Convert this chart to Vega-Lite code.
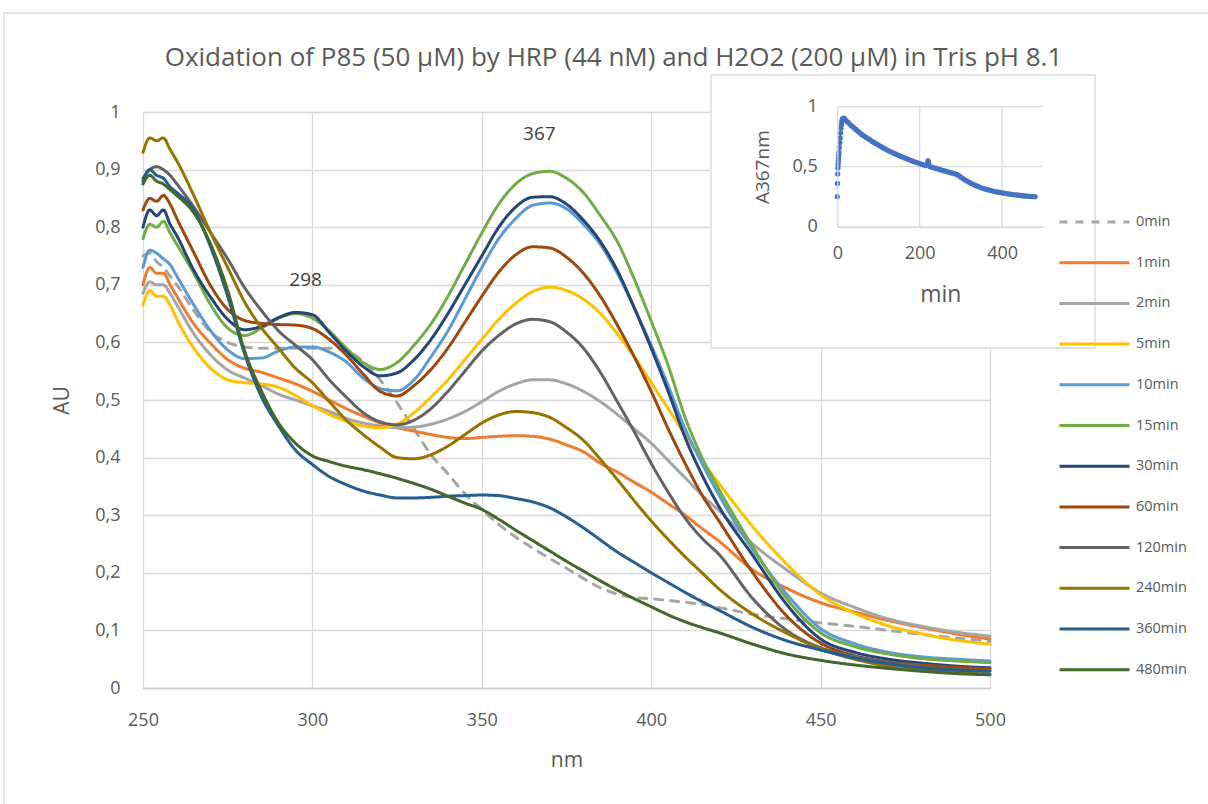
{
  "$schema": "https://vega.github.io/schema/vega-lite/v6.json",
  "width": 847,
  "height": 576,
  "autosize": {"type": "none"},
  "padding": {"left": 143, "top": 112, "right": 218, "bottom": 116},
  "background": "white",
  "title": {"text": "Oxidation of P85 (50 µM) by HRP (44 nM) and H2O2 (200 µM) in Tris pH 8.1", "font": "Open Sans", "fontSize": 26, "fontWeight": "normal", "color": "#595959", "anchor": "middle", "dx": 47, "dy": 26, "offset": -33},
  "config": {"view": {"stroke": null}, "font": "Open Sans"},
  "datasets": {
    "peaks": [{"nm": 298, "au": 0.708, "label": "298"}, {"nm": 367, "au": 0.961, "label": "367"}],
    "spectra": [
{"series":"0min","nm":250,"au":0.75},{"series":"0min","nm":252,"au":0.755},{"series":"0min","nm":254,"au":0.74},{"series":"0min","nm":256,"au":0.73},{"series":"0min","nm":258,"au":0.715},{"series":"0min","nm":260,"au":0.7},{"series":"0min","nm":265,"au":0.655},{"series":"0min","nm":270,"au":0.618},{"series":"0min","nm":275,"au":0.6},{"series":"0min","nm":280,"au":0.592},{"series":"0min","nm":285,"au":0.59},{"series":"0min","nm":290,"au":0.59},{"series":"0min","nm":295,"au":0.59},{"series":"0min","nm":300,"au":0.59},{"series":"0min","nm":305,"au":0.59},{"series":"0min","nm":310,"au":0.585},{"series":"0min","nm":315,"au":0.567},{"series":"0min","nm":320,"au":0.535},{"series":"0min","nm":325,"au":0.495},{"series":"0min","nm":330,"au":0.45},{"series":"0min","nm":335,"au":0.405},{"series":"0min","nm":340,"au":0.372},{"series":"0min","nm":345,"au":0.337},{"series":"0min","nm":350,"au":0.31},{"series":"0min","nm":355,"au":0.284},{"series":"0min","nm":360,"au":0.262},{"series":"0min","nm":365,"au":0.243},{"series":"0min","nm":370,"au":0.225},{"series":"0min","nm":375,"au":0.208},{"series":"0min","nm":380,"au":0.19},{"series":"0min","nm":385,"au":0.174},{"series":"0min","nm":390,"au":0.163},{"series":"0min","nm":395,"au":0.157},{"series":"0min","nm":400,"au":0.155},{"series":"0min","nm":405,"au":0.152},{"series":"0min","nm":410,"au":0.149},{"series":"0min","nm":415,"au":0.145},{"series":"0min","nm":420,"au":0.14},{"series":"0min","nm":430,"au":0.128},{"series":"0min","nm":440,"au":0.12},{"series":"0min","nm":450,"au":0.113},{"series":"0min","nm":460,"au":0.107},{"series":"0min","nm":470,"au":0.1},{"series":"0min","nm":480,"au":0.093},{"series":"0min","nm":490,"au":0.087},{"series":"0min","nm":500,"au":0.081},
{"series":"1min","nm":250,"au":0.7},{"series":"1min","nm":252,"au":0.73},{"series":"1min","nm":254,"au":0.72},{"series":"1min","nm":256,"au":0.72},{"series":"1min","nm":258,"au":0.7},{"series":"1min","nm":260,"au":0.68},{"series":"1min","nm":265,"au":0.632},{"series":"1min","nm":270,"au":0.598},{"series":"1min","nm":275,"au":0.57},{"series":"1min","nm":280,"au":0.555},{"series":"1min","nm":285,"au":0.548},{"series":"1min","nm":290,"au":0.538},{"series":"1min","nm":295,"au":0.528},{"series":"1min","nm":300,"au":0.515},{"series":"1min","nm":305,"au":0.5},{"series":"1min","nm":310,"au":0.485},{"series":"1min","nm":315,"au":0.472},{"series":"1min","nm":320,"au":0.46},{"series":"1min","nm":325,"au":0.452},{"series":"1min","nm":330,"au":0.446},{"series":"1min","nm":335,"au":0.44},{"series":"1min","nm":340,"au":0.435},{"series":"1min","nm":345,"au":0.433},{"series":"1min","nm":350,"au":0.435},{"series":"1min","nm":355,"au":0.437},{"series":"1min","nm":360,"au":0.438},{"series":"1min","nm":365,"au":0.437},{"series":"1min","nm":370,"au":0.432},{"series":"1min","nm":375,"au":0.422},{"series":"1min","nm":380,"au":0.41},{"series":"1min","nm":385,"au":0.39},{"series":"1min","nm":390,"au":0.375},{"series":"1min","nm":395,"au":0.357},{"series":"1min","nm":400,"au":0.34},{"series":"1min","nm":405,"au":0.32},{"series":"1min","nm":410,"au":0.3},{"series":"1min","nm":415,"au":0.277},{"series":"1min","nm":420,"au":0.255},{"series":"1min","nm":430,"au":0.205},{"series":"1min","nm":440,"au":0.173},{"series":"1min","nm":450,"au":0.148},{"series":"1min","nm":460,"au":0.132},{"series":"1min","nm":470,"au":0.117},{"series":"1min","nm":480,"au":0.105},{"series":"1min","nm":490,"au":0.094},{"series":"1min","nm":500,"au":0.085},
{"series":"2min","nm":250,"au":0.685},{"series":"2min","nm":252,"au":0.705},{"series":"2min","nm":254,"au":0.7},{"series":"2min","nm":256,"au":0.7},{"series":"2min","nm":258,"au":0.685},{"series":"2min","nm":260,"au":0.665},{"series":"2min","nm":265,"au":0.615},{"series":"2min","nm":270,"au":0.578},{"series":"2min","nm":275,"au":0.552},{"series":"2min","nm":280,"au":0.538},{"series":"2min","nm":285,"au":0.525},{"series":"2min","nm":290,"au":0.51},{"series":"2min","nm":295,"au":0.5},{"series":"2min","nm":300,"au":0.49},{"series":"2min","nm":305,"au":0.48},{"series":"2min","nm":310,"au":0.468},{"series":"2min","nm":315,"au":0.46},{"series":"2min","nm":320,"au":0.455},{"series":"2min","nm":325,"au":0.452},{"series":"2min","nm":330,"au":0.453},{"series":"2min","nm":335,"au":0.458},{"series":"2min","nm":340,"au":0.467},{"series":"2min","nm":345,"au":0.48},{"series":"2min","nm":350,"au":0.497},{"series":"2min","nm":355,"au":0.515},{"series":"2min","nm":360,"au":0.528},{"series":"2min","nm":365,"au":0.535},{"series":"2min","nm":370,"au":0.535},{"series":"2min","nm":375,"au":0.528},{"series":"2min","nm":380,"au":0.515},{"series":"2min","nm":385,"au":0.497},{"series":"2min","nm":390,"au":0.475},{"series":"2min","nm":395,"au":0.45},{"series":"2min","nm":400,"au":0.425},{"series":"2min","nm":405,"au":0.395},{"series":"2min","nm":410,"au":0.365},{"series":"2min","nm":415,"au":0.335},{"series":"2min","nm":420,"au":0.308},{"series":"2min","nm":430,"au":0.25},{"series":"2min","nm":440,"au":0.205},{"series":"2min","nm":450,"au":0.165},{"series":"2min","nm":460,"au":0.14},{"series":"2min","nm":470,"au":0.12},{"series":"2min","nm":480,"au":0.107},{"series":"2min","nm":490,"au":0.097},{"series":"2min","nm":500,"au":0.09},
{"series":"5min","nm":250,"au":0.665},{"series":"5min","nm":252,"au":0.69},{"series":"5min","nm":254,"au":0.68},{"series":"5min","nm":256,"au":0.68},{"series":"5min","nm":258,"au":0.665},{"series":"5min","nm":260,"au":0.64},{"series":"5min","nm":265,"au":0.59},{"series":"5min","nm":270,"au":0.555},{"series":"5min","nm":275,"au":0.535},{"series":"5min","nm":280,"au":0.53},{"series":"5min","nm":285,"au":0.528},{"series":"5min","nm":290,"au":0.522},{"series":"5min","nm":295,"au":0.508},{"series":"5min","nm":300,"au":0.49},{"series":"5min","nm":305,"au":0.475},{"series":"5min","nm":310,"au":0.463},{"series":"5min","nm":315,"au":0.455},{"series":"5min","nm":320,"au":0.452},{"series":"5min","nm":325,"au":0.458},{"series":"5min","nm":330,"au":0.478},{"series":"5min","nm":335,"au":0.505},{"series":"5min","nm":340,"au":0.535},{"series":"5min","nm":345,"au":0.57},{"series":"5min","nm":350,"au":0.605},{"series":"5min","nm":355,"au":0.64},{"series":"5min","nm":360,"au":0.668},{"series":"5min","nm":365,"au":0.688},{"series":"5min","nm":370,"au":0.696},{"series":"5min","nm":375,"au":0.69},{"series":"5min","nm":380,"au":0.675},{"series":"5min","nm":385,"au":0.65},{"series":"5min","nm":390,"au":0.615},{"series":"5min","nm":395,"au":0.575},{"series":"5min","nm":400,"au":0.53},{"series":"5min","nm":405,"au":0.485},{"series":"5min","nm":410,"au":0.44},{"series":"5min","nm":415,"au":0.395},{"series":"5min","nm":420,"au":0.355},{"series":"5min","nm":430,"au":0.28},{"series":"5min","nm":440,"au":0.215},{"series":"5min","nm":450,"au":0.162},{"series":"5min","nm":460,"au":0.13},{"series":"5min","nm":470,"au":0.108},{"series":"5min","nm":480,"au":0.094},{"series":"5min","nm":490,"au":0.083},{"series":"5min","nm":500,"au":0.076},
{"series":"10min","nm":250,"au":0.73},{"series":"10min","nm":252,"au":0.76},{"series":"10min","nm":254,"au":0.755},{"series":"10min","nm":256,"au":0.745},{"series":"10min","nm":258,"au":0.735},{"series":"10min","nm":260,"au":0.715},{"series":"10min","nm":265,"au":0.665},{"series":"10min","nm":270,"au":0.62},{"series":"10min","nm":275,"au":0.587},{"series":"10min","nm":280,"au":0.572},{"series":"10min","nm":285,"au":0.573},{"series":"10min","nm":290,"au":0.585},{"series":"10min","nm":295,"au":0.592},{"series":"10min","nm":300,"au":0.592},{"series":"10min","nm":305,"au":0.583},{"series":"10min","nm":310,"au":0.566},{"series":"10min","nm":315,"au":0.538},{"series":"10min","nm":320,"au":0.52},{"series":"10min","nm":325,"au":0.516},{"series":"10min","nm":330,"au":0.535},{"series":"10min","nm":335,"au":0.575},{"series":"10min","nm":340,"au":0.62},{"series":"10min","nm":345,"au":0.675},{"series":"10min","nm":350,"au":0.73},{"series":"10min","nm":355,"au":0.78},{"series":"10min","nm":360,"au":0.815},{"series":"10min","nm":365,"au":0.838},{"series":"10min","nm":370,"au":0.842},{"series":"10min","nm":375,"au":0.832},{"series":"10min","nm":380,"au":0.805},{"series":"10min","nm":385,"au":0.77},{"series":"10min","nm":390,"au":0.72},{"series":"10min","nm":395,"au":0.66},{"series":"10min","nm":400,"au":0.595},{"series":"10min","nm":405,"au":0.525},{"series":"10min","nm":410,"au":0.45},{"series":"10min","nm":415,"au":0.39},{"series":"10min","nm":420,"au":0.335},{"series":"10min","nm":430,"au":0.24},{"series":"10min","nm":440,"au":0.163},{"series":"10min","nm":450,"au":0.103},{"series":"10min","nm":460,"au":0.077},{"series":"10min","nm":470,"au":0.062},{"series":"10min","nm":480,"au":0.054},{"series":"10min","nm":490,"au":0.05},{"series":"10min","nm":500,"au":0.047},
{"series":"15min","nm":250,"au":0.78},{"series":"15min","nm":252,"au":0.805},{"series":"15min","nm":254,"au":0.8},{"series":"15min","nm":256,"au":0.81},{"series":"15min","nm":258,"au":0.79},{"series":"15min","nm":260,"au":0.77},{"series":"15min","nm":265,"au":0.72},{"series":"15min","nm":270,"au":0.665},{"series":"15min","nm":275,"au":0.625},{"series":"15min","nm":280,"au":0.612},{"series":"15min","nm":285,"au":0.625},{"series":"15min","nm":290,"au":0.642},{"series":"15min","nm":295,"au":0.65},{"series":"15min","nm":300,"au":0.642},{"series":"15min","nm":305,"au":0.62},{"series":"15min","nm":310,"au":0.59},{"series":"15min","nm":315,"au":0.565},{"series":"15min","nm":320,"au":0.553},{"series":"15min","nm":325,"au":0.565},{"series":"15min","nm":330,"au":0.595},{"series":"15min","nm":335,"au":0.632},{"series":"15min","nm":340,"au":0.68},{"series":"15min","nm":345,"au":0.735},{"series":"15min","nm":350,"au":0.79},{"series":"15min","nm":355,"au":0.84},{"series":"15min","nm":360,"au":0.875},{"series":"15min","nm":365,"au":0.893},{"series":"15min","nm":370,"au":0.897},{"series":"15min","nm":375,"au":0.885},{"series":"15min","nm":380,"au":0.86},{"series":"15min","nm":385,"au":0.82},{"series":"15min","nm":390,"au":0.775},{"series":"15min","nm":395,"au":0.71},{"series":"15min","nm":400,"au":0.637},{"series":"15min","nm":405,"au":0.56},{"series":"15min","nm":410,"au":0.47},{"series":"15min","nm":415,"au":0.4},{"series":"15min","nm":420,"au":0.345},{"series":"15min","nm":430,"au":0.245},{"series":"15min","nm":440,"au":0.155},{"series":"15min","nm":450,"au":0.096},{"series":"15min","nm":460,"au":0.072},{"series":"15min","nm":470,"au":0.059},{"series":"15min","nm":480,"au":0.051},{"series":"15min","nm":490,"au":0.047},{"series":"15min","nm":500,"au":0.044},
{"series":"30min","nm":250,"au":0.8},{"series":"30min","nm":252,"au":0.83},{"series":"30min","nm":254,"au":0.82},{"series":"30min","nm":256,"au":0.83},{"series":"30min","nm":258,"au":0.805},{"series":"30min","nm":260,"au":0.785},{"series":"30min","nm":265,"au":0.725},{"series":"30min","nm":270,"au":0.678},{"series":"30min","nm":275,"au":0.64},{"series":"30min","nm":280,"au":0.622},{"series":"30min","nm":285,"au":0.628},{"series":"30min","nm":290,"au":0.643},{"series":"30min","nm":295,"au":0.652},{"series":"30min","nm":300,"au":0.648},{"series":"30min","nm":305,"au":0.617},{"series":"30min","nm":310,"au":0.585},{"series":"30min","nm":315,"au":0.558},{"series":"30min","nm":320,"au":0.542},{"series":"30min","nm":325,"au":0.547},{"series":"30min","nm":330,"au":0.57},{"series":"30min","nm":335,"au":0.605},{"series":"30min","nm":340,"au":0.65},{"series":"30min","nm":345,"au":0.7},{"series":"30min","nm":350,"au":0.75},{"series":"30min","nm":355,"au":0.8},{"series":"30min","nm":360,"au":0.835},{"series":"30min","nm":365,"au":0.852},{"series":"30min","nm":370,"au":0.853},{"series":"30min","nm":375,"au":0.84},{"series":"30min","nm":380,"au":0.812},{"series":"30min","nm":385,"au":0.775},{"series":"30min","nm":390,"au":0.725},{"series":"30min","nm":395,"au":0.66},{"series":"30min","nm":400,"au":0.59},{"series":"30min","nm":405,"au":0.515},{"series":"30min","nm":410,"au":0.435},{"series":"30min","nm":415,"au":0.37},{"series":"30min","nm":420,"au":0.315},{"series":"30min","nm":430,"au":0.23},{"series":"30min","nm":440,"au":0.145},{"series":"30min","nm":450,"au":0.085},{"series":"30min","nm":460,"au":0.062},{"series":"30min","nm":470,"au":0.05},{"series":"30min","nm":480,"au":0.043},{"series":"30min","nm":490,"au":0.038},{"series":"30min","nm":500,"au":0.035},
{"series":"60min","nm":250,"au":0.83},{"series":"60min","nm":252,"au":0.85},{"series":"60min","nm":254,"au":0.845},{"series":"60min","nm":256,"au":0.855},{"series":"60min","nm":258,"au":0.84},{"series":"60min","nm":260,"au":0.815},{"series":"60min","nm":265,"au":0.756},{"series":"60min","nm":270,"au":0.698},{"series":"60min","nm":275,"au":0.657},{"series":"60min","nm":280,"au":0.638},{"series":"60min","nm":285,"au":0.633},{"series":"60min","nm":290,"au":0.631},{"series":"60min","nm":295,"au":0.63},{"series":"60min","nm":300,"au":0.624},{"series":"60min","nm":305,"au":0.605},{"series":"60min","nm":310,"au":0.578},{"series":"60min","nm":315,"au":0.545},{"series":"60min","nm":320,"au":0.515},{"series":"60min","nm":325,"au":0.507},{"series":"60min","nm":330,"au":0.525},{"series":"60min","nm":335,"au":0.553},{"series":"60min","nm":340,"au":0.59},{"series":"60min","nm":345,"au":0.635},{"series":"60min","nm":350,"au":0.68},{"series":"60min","nm":355,"au":0.722},{"series":"60min","nm":360,"au":0.752},{"series":"60min","nm":365,"au":0.766},{"series":"60min","nm":370,"au":0.764},{"series":"60min","nm":375,"au":0.748},{"series":"60min","nm":380,"au":0.72},{"series":"60min","nm":385,"au":0.68},{"series":"60min","nm":390,"au":0.63},{"series":"60min","nm":395,"au":0.575},{"series":"60min","nm":400,"au":0.515},{"series":"60min","nm":405,"au":0.45},{"series":"60min","nm":410,"au":0.39},{"series":"60min","nm":415,"au":0.335},{"series":"60min","nm":420,"au":0.29},{"series":"60min","nm":430,"au":0.2},{"series":"60min","nm":440,"au":0.125},{"series":"60min","nm":450,"au":0.078},{"series":"60min","nm":460,"au":0.056},{"series":"60min","nm":470,"au":0.045},{"series":"60min","nm":480,"au":0.04},{"series":"60min","nm":490,"au":0.036},{"series":"60min","nm":500,"au":0.033},
{"series":"120min","nm":250,"au":0.885},{"series":"120min","nm":252,"au":0.9},{"series":"120min","nm":254,"au":0.905},{"series":"120min","nm":256,"au":0.9},{"series":"120min","nm":258,"au":0.89},{"series":"120min","nm":260,"au":0.875},{"series":"120min","nm":265,"au":0.835},{"series":"120min","nm":270,"au":0.79},{"series":"120min","nm":275,"au":0.745},{"series":"120min","nm":280,"au":0.695},{"series":"120min","nm":285,"au":0.655},{"series":"120min","nm":290,"au":0.62},{"series":"120min","nm":295,"au":0.595},{"series":"120min","nm":300,"au":0.57},{"series":"120min","nm":305,"au":0.535},{"series":"120min","nm":310,"au":0.505},{"series":"120min","nm":315,"au":0.478},{"series":"120min","nm":320,"au":0.462},{"series":"120min","nm":325,"au":0.457},{"series":"120min","nm":330,"au":0.465},{"series":"120min","nm":335,"au":0.485},{"series":"120min","nm":340,"au":0.515},{"series":"120min","nm":345,"au":0.55},{"series":"120min","nm":350,"au":0.585},{"series":"120min","nm":355,"au":0.612},{"series":"120min","nm":360,"au":0.632},{"series":"120min","nm":365,"au":0.64},{"series":"120min","nm":370,"au":0.636},{"series":"120min","nm":375,"au":0.618},{"series":"120min","nm":380,"au":0.59},{"series":"120min","nm":385,"au":0.548},{"series":"120min","nm":390,"au":0.497},{"series":"120min","nm":395,"au":0.445},{"series":"120min","nm":400,"au":0.39},{"series":"120min","nm":405,"au":0.34},{"series":"120min","nm":410,"au":0.295},{"series":"120min","nm":415,"au":0.26},{"series":"120min","nm":420,"au":0.232},{"series":"120min","nm":430,"au":0.155},{"series":"120min","nm":440,"au":0.1},{"series":"120min","nm":450,"au":0.07},{"series":"120min","nm":460,"au":0.055},{"series":"120min","nm":470,"au":0.045},{"series":"120min","nm":480,"au":0.037},{"series":"120min","nm":490,"au":0.032},{"series":"120min","nm":500,"au":0.03},
{"series":"240min","nm":250,"au":0.93},{"series":"240min","nm":252,"au":0.955},{"series":"240min","nm":254,"au":0.95},{"series":"240min","nm":256,"au":0.955},{"series":"240min","nm":258,"au":0.935},{"series":"240min","nm":260,"au":0.915},{"series":"240min","nm":265,"au":0.855},{"series":"240min","nm":270,"au":0.79},{"series":"240min","nm":275,"au":0.73},{"series":"240min","nm":280,"au":0.67},{"series":"240min","nm":285,"au":0.625},{"series":"240min","nm":290,"au":0.59},{"series":"240min","nm":295,"au":0.555},{"series":"240min","nm":300,"au":0.53},{"series":"240min","nm":305,"au":0.497},{"series":"240min","nm":310,"au":0.465},{"series":"240min","nm":315,"au":0.44},{"series":"240min","nm":320,"au":0.418},{"series":"240min","nm":325,"au":0.4},{"series":"240min","nm":330,"au":0.398},{"series":"240min","nm":335,"au":0.405},{"series":"240min","nm":340,"au":0.42},{"series":"240min","nm":345,"au":0.44},{"series":"240min","nm":350,"au":0.46},{"series":"240min","nm":355,"au":0.474},{"series":"240min","nm":360,"au":0.48},{"series":"240min","nm":365,"au":0.478},{"series":"240min","nm":370,"au":0.47},{"series":"240min","nm":375,"au":0.452},{"series":"240min","nm":380,"au":0.43},{"series":"240min","nm":385,"au":0.397},{"series":"240min","nm":390,"au":0.362},{"series":"240min","nm":395,"au":0.325},{"series":"240min","nm":400,"au":0.29},{"series":"240min","nm":405,"au":0.258},{"series":"240min","nm":410,"au":0.228},{"series":"240min","nm":415,"au":0.2},{"series":"240min","nm":420,"au":0.172},{"series":"240min","nm":430,"au":0.128},{"series":"240min","nm":440,"au":0.095},{"series":"240min","nm":450,"au":0.068},{"series":"240min","nm":460,"au":0.05},{"series":"240min","nm":470,"au":0.038},{"series":"240min","nm":480,"au":0.031},{"series":"240min","nm":490,"au":0.027},{"series":"240min","nm":500,"au":0.024},
{"series":"360min","nm":250,"au":0.88},{"series":"360min","nm":252,"au":0.9},{"series":"360min","nm":254,"au":0.89},{"series":"360min","nm":256,"au":0.885},{"series":"360min","nm":258,"au":0.87},{"series":"360min","nm":260,"au":0.86},{"series":"360min","nm":265,"au":0.83},{"series":"360min","nm":270,"au":0.765},{"series":"360min","nm":275,"au":0.68},{"series":"360min","nm":280,"au":0.58},{"series":"360min","nm":285,"au":0.505},{"series":"360min","nm":290,"au":0.455},{"series":"360min","nm":295,"au":0.413},{"series":"360min","nm":300,"au":0.388},{"series":"360min","nm":305,"au":0.367},{"series":"360min","nm":310,"au":0.353},{"series":"360min","nm":315,"au":0.342},{"series":"360min","nm":320,"au":0.335},{"series":"360min","nm":325,"au":0.33},{"series":"360min","nm":330,"au":0.33},{"series":"360min","nm":335,"au":0.331},{"series":"360min","nm":340,"au":0.333},{"series":"360min","nm":345,"au":0.334},{"series":"360min","nm":350,"au":0.335},{"series":"360min","nm":355,"au":0.334},{"series":"360min","nm":360,"au":0.329},{"series":"360min","nm":365,"au":0.323},{"series":"360min","nm":370,"au":0.313},{"series":"360min","nm":375,"au":0.297},{"series":"360min","nm":380,"au":0.278},{"series":"360min","nm":385,"au":0.257},{"series":"360min","nm":390,"au":0.236},{"series":"360min","nm":395,"au":0.218},{"series":"360min","nm":400,"au":0.2},{"series":"360min","nm":405,"au":0.183},{"series":"360min","nm":410,"au":0.166},{"series":"360min","nm":415,"au":0.15},{"series":"360min","nm":420,"au":0.135},{"series":"360min","nm":430,"au":0.105},{"series":"360min","nm":440,"au":0.082},{"series":"360min","nm":450,"au":0.066},{"series":"360min","nm":460,"au":0.052},{"series":"360min","nm":470,"au":0.042},{"series":"360min","nm":480,"au":0.035},{"series":"360min","nm":490,"au":0.031},{"series":"360min","nm":500,"au":0.029},
{"series":"480min","nm":250,"au":0.875},{"series":"480min","nm":252,"au":0.89},{"series":"480min","nm":254,"au":0.88},{"series":"480min","nm":256,"au":0.875},{"series":"480min","nm":258,"au":0.865},{"series":"480min","nm":260,"au":0.855},{"series":"480min","nm":265,"au":0.825},{"series":"480min","nm":270,"au":0.77},{"series":"480min","nm":275,"au":0.69},{"series":"480min","nm":280,"au":0.585},{"series":"480min","nm":285,"au":0.515},{"series":"480min","nm":290,"au":0.46},{"series":"480min","nm":295,"au":0.425},{"series":"480min","nm":300,"au":0.403},{"series":"480min","nm":305,"au":0.393},{"series":"480min","nm":310,"au":0.385},{"series":"480min","nm":315,"au":0.379},{"series":"480min","nm":320,"au":0.372},{"series":"480min","nm":325,"au":0.364},{"series":"480min","nm":330,"au":0.355},{"series":"480min","nm":335,"au":0.345},{"series":"480min","nm":340,"au":0.333},{"series":"480min","nm":345,"au":0.321},{"series":"480min","nm":350,"au":0.31},{"series":"480min","nm":355,"au":0.293},{"series":"480min","nm":360,"au":0.274},{"series":"480min","nm":365,"au":0.256},{"series":"480min","nm":370,"au":0.238},{"series":"480min","nm":375,"au":0.22},{"series":"480min","nm":380,"au":0.203},{"series":"480min","nm":385,"au":0.186},{"series":"480min","nm":390,"au":0.17},{"series":"480min","nm":395,"au":0.155},{"series":"480min","nm":400,"au":0.141},{"series":"480min","nm":405,"au":0.127},{"series":"480min","nm":410,"au":0.115},{"series":"480min","nm":415,"au":0.105},{"series":"480min","nm":420,"au":0.096},{"series":"480min","nm":430,"au":0.076},{"series":"480min","nm":440,"au":0.059},{"series":"480min","nm":450,"au":0.048},{"series":"480min","nm":460,"au":0.04},{"series":"480min","nm":470,"au":0.034},{"series":"480min","nm":480,"au":0.029},{"series":"480min","nm":490,"au":0.025},{"series":"480min","nm":500,"au":0.023}
    ],
    "kinetics": [
{"min":0,"a367":0.25},{"min":0.5,"a367":0.36},{"min":1,"a367":0.44},{"min":1.5,"a367":0.49},{"min":2,"a367":0.52},{"min":2.5,"a367":0.545},{"min":3,"a367":0.57},{"min":3.5,"a367":0.595},{"min":4,"a367":0.62},{"min":5,"a367":0.66},{"min":6,"a367":0.7},{"min":7,"a367":0.74},{"min":8,"a367":0.78},{"min":9,"a367":0.82},{"min":10,"a367":0.85},{"min":11,"a367":0.875},{"min":12,"a367":0.89},{"min":13,"a367":0.9},{"min":15,"a367":0.905},{"min":17,"a367":0.903},{"min":20,"a367":0.89},{"min":25,"a367":0.873},{"min":30,"a367":0.856},{"min":35,"a367":0.84},{"min":40,"a367":0.825},{"min":45,"a367":0.81},{"min":50,"a367":0.796},{"min":55,"a367":0.781},{"min":60,"a367":0.767},{"min":65,"a367":0.755},{"min":70,"a367":0.744},{"min":75,"a367":0.733},{"min":80,"a367":0.722},{"min":85,"a367":0.711},{"min":90,"a367":0.7},{"min":95,"a367":0.69},{"min":100,"a367":0.68},{"min":105,"a367":0.67},{"min":110,"a367":0.66},{"min":115,"a367":0.65},{"min":120,"a367":0.641},{"min":125,"a367":0.632},{"min":130,"a367":0.624},{"min":135,"a367":0.616},{"min":140,"a367":0.608},{"min":145,"a367":0.6},{"min":150,"a367":0.592},{"min":155,"a367":0.585},{"min":160,"a367":0.578},{"min":165,"a367":0.571},{"min":170,"a367":0.564},{"min":175,"a367":0.557},{"min":180,"a367":0.55},{"min":185,"a367":0.544},{"min":190,"a367":0.538},{"min":195,"a367":0.532},{"min":200,"a367":0.526},{"min":205,"a367":0.52},{"min":210,"a367":0.515},{"min":215,"a367":0.51},{"min":219,"a367":0.53},{"min":220,"a367":0.548},{"min":221,"a367":0.54},{"min":222,"a367":0.52},{"min":225,"a367":0.5},{"min":230,"a367":0.495},{"min":235,"a367":0.49},{"min":240,"a367":0.485},{"min":245,"a367":0.48},{"min":250,"a367":0.475},{"min":255,"a367":0.47},{"min":260,"a367":0.465},{"min":265,"a367":0.46},{"min":270,"a367":0.455},{"min":275,"a367":0.45},{"min":280,"a367":0.446},{"min":285,"a367":0.442},{"min":290,"a367":0.436},{"min":295,"a367":0.425},{"min":300,"a367":0.413},{"min":305,"a367":0.401},{"min":310,"a367":0.39},{"min":315,"a367":0.38},{"min":320,"a367":0.37},{"min":325,"a367":0.361},{"min":330,"a367":0.352},{"min":335,"a367":0.344},{"min":340,"a367":0.337},{"min":345,"a367":0.33},{"min":350,"a367":0.324},{"min":355,"a367":0.318},{"min":360,"a367":0.313},{"min":365,"a367":0.308},{"min":370,"a367":0.303},{"min":375,"a367":0.299},{"min":380,"a367":0.295},{"min":385,"a367":0.291},{"min":390,"a367":0.288},{"min":395,"a367":0.285},{"min":400,"a367":0.282},{"min":405,"a367":0.279},{"min":410,"a367":0.276},{"min":415,"a367":0.273},{"min":420,"a367":0.271},{"min":425,"a367":0.268},{"min":430,"a367":0.266},{"min":435,"a367":0.264},{"min":440,"a367":0.262},{"min":445,"a367":0.26},{"min":450,"a367":0.258},{"min":455,"a367":0.256},{"min":460,"a367":0.255},{"min":465,"a367":0.253},{"min":470,"a367":0.252},{"min":475,"a367":0.251},{"min":480,"a367":0.25}
    ]
  },
  "layer": [
    {
      "layer": [
        {
          "data": {"values": [{}]},
          "mark": {"type": "rect", "fillOpacity": 0, "stroke": "#d9d9d9", "strokeWidth": 1.3, "clip": false},
          "encoding": {
            "x": {"datum": 208.97, "type": "quantitative"},
            "x2": {"datum": 566.4},
            "y": {"datum": 1.1719, "type": "quantitative"},
            "y2": {"datum": -0.2118}
          }
        },
        {
          "data": {"name": "spectra"},
          "mark": {"type": "line", "strokeWidth": 3, "strokeCap": "round", "strokeJoin": "round", "interpolate": "monotone", "clip": false},
          "encoding": {
            "x": {"field": "nm", "type": "quantitative", "scale": {"domain": [250, 500], "nice": false, "zero": false},
              "axis": {"title": "nm", "values": [250, 300, 350, 400, 450, 500], "labelFlush": false, "grid": true, "gridColor": "#d9d9d9", "gridWidth": 1.3, "domain": true, "domainColor": "#cccccc", "domainWidth": 1.3, "ticks": false, "tickSize": 0, "labelPadding": 23, "labelFont": "Open Sans", "labelFontSize": 18, "labelColor": "#595959", "titleFont": "Open Sans", "titleFontSize": 21, "titleFontWeight": "normal", "titleColor": "#595959", "titlePadding": 20}},
            "y": {"field": "au", "type": "quantitative", "scale": {"domain": [0, 1], "nice": false},
              "axis": {"title": "AU", "values": [0, 0.1, 0.2, 0.3, 0.4, 0.5, 0.6, 0.7, 0.8, 0.9, 1], "labelFlush": false, "labelExpr": "replace(format(datum.value, '.1~f'), '.', ',')", "grid": true, "gridColor": "#d9d9d9", "gridWidth": 1.3, "domain": false, "ticks": false, "tickSize": 0, "labelPadding": 23, "labelFont": "Open Sans", "labelFontSize": 18, "labelColor": "#595959", "titleFont": "Open Sans", "titleFontSize": 21, "titleFontWeight": "normal", "titleColor": "#595959", "titlePadding": 22}},
            "color": {"field": "series", "type": "nominal",
              "scale": {"domain": ["0min", "1min", "2min", "5min", "10min", "15min", "30min", "60min", "120min", "240min", "360min", "480min"],
                "range": ["#A5A5A5", "#ED7D31", "#A5A5A5", "#FFC000", "#5B9BD5", "#70AD47", "#264478", "#9E480E", "#636363", "#997300", "#255E91", "#43682B"]},
              "legend": {"title": null, "orient": "none", "legendX": 915, "legendY": 100, "padding": 0, "symbolType": "stroke", "symbolSize": 4900, "symbolStrokeWidth": 3, "clipHeight": 20, "rowPadding": 20.7, "labelOffset": 5, "labelFont": "Open Sans", "labelFontSize": 14.5, "labelColor": "#595959"}},
            "strokeDash": {"field": "series", "type": "nominal",
              "scale": {"domain": ["0min", "1min", "2min", "5min", "10min", "15min", "30min", "60min", "120min", "240min", "360min", "480min"],
                "range": [[8, 8], [1, 0], [1, 0], [1, 0], [1, 0], [1, 0], [1, 0], [1, 0], [1, 0], [1, 0], [1, 0], [1, 0]]},
              "legend": {"title": null, "orient": "none", "legendX": 915, "legendY": 100, "padding": 0, "symbolType": "stroke", "symbolSize": 4900, "symbolStrokeWidth": 3, "clipHeight": 20, "rowPadding": 20.7, "labelOffset": 5, "labelFont": "Open Sans", "labelFontSize": 14.5, "labelColor": "#595959"}}
          }
        },
        {
          "data": {"name": "peaks"},
          "mark": {"type": "text", "font": "Open Sans", "fontSize": 19, "color": "#404040", "baseline": "middle", "align": "center"},
          "encoding": {
            "x": {"field": "nm", "type": "quantitative"},
            "y": {"field": "au", "type": "quantitative"},
            "text": {"field": "label"}
          }
        }
      ]
    },
    {
      "layer": [
        {
          "data": {"values": [{}]},
          "mark": {"type": "rect", "fill": "white", "stroke": "#d9d9d9", "strokeWidth": 1.3, "clip": false},
          "encoding": {
            "x": {"datum": -306.6, "type": "quantitative", "scale": {"domain": [0, 500], "range": [694.3, 900.3], "nice": false, "zero": false},
              "axis": {"orient": "bottom", "offset": -461.3, "zindex": 1, "title": "min", "values": [0, 200, 400], "labelFlush": false, "grid": false, "domain": true, "domainColor": "#cccccc", "domainWidth": 1.3, "ticks": false, "tickSize": 0, "labelPadding": 18, "labelFont": "Open Sans", "labelFontSize": 18, "labelColor": "#595959", "titleFont": "Open Sans", "titleFontSize": 23, "titleFontWeight": "normal", "titleColor": "#595959", "titlePadding": 21}},
            "x2": {"datum": 625.5},
            "y": {"datum": 1.264, "type": "quantitative", "scale": {"domain": [0, 1], "range": [114.7, -5.3], "nice": false},
              "axis": {"orient": "left", "offset": -694.3, "zindex": 1, "title": "A367nm", "values": [0, 0.5, 1], "labelFlush": false, "labelExpr": "replace(format(datum.value, '.1~f'), '.', ',')", "grid": false, "domain": true, "domainColor": "#d9d9d9", "domainWidth": 1.3, "ticks": false, "tickSize": 0, "labelPadding": 20, "labelFont": "Open Sans", "labelFontSize": 18, "labelColor": "#595959", "titleFont": "Open Sans", "titleFontSize": 19, "titleFontWeight": "normal", "titleColor": "#595959", "titlePadding": 20}},
            "y2": {"datum": -1.011}
          }
        },
        {
          "data": {"values": [{}]},
          "mark": {"type": "rule", "color": "#d9d9d9", "strokeWidth": 1.3},
          "encoding": {"x": {"datum": 200, "type": "quantitative"}, "y": {"datum": 0, "type": "quantitative"}, "y2": {"datum": 1}}
        },
        {
          "data": {"values": [{}]},
          "mark": {"type": "rule", "color": "#d9d9d9", "strokeWidth": 1.3},
          "encoding": {"x": {"datum": 400, "type": "quantitative"}, "y": {"datum": 0, "type": "quantitative"}, "y2": {"datum": 1}}
        },
        {
          "data": {"values": [{}]},
          "mark": {"type": "rule", "color": "#d9d9d9", "strokeWidth": 1.3},
          "encoding": {"y": {"datum": 0.5, "type": "quantitative"}, "x": {"datum": 0, "type": "quantitative"}, "x2": {"datum": 500}}
        },
        {
          "data": {"values": [{}]},
          "mark": {"type": "rule", "color": "#d9d9d9", "strokeWidth": 1.3},
          "encoding": {"y": {"datum": 1, "type": "quantitative"}, "x": {"datum": 0, "type": "quantitative"}, "x2": {"datum": 500}}
        },
        {
          "data": {"name": "kinetics"},
          "mark": {"type": "circle", "size": 28, "color": "#4472C4", "opacity": 1, "clip": false},
          "encoding": {
            "x": {"field": "min", "type": "quantitative"},
            "y": {"field": "a367", "type": "quantitative"}
          }
        }
      ]
    }
  ],
  "resolve": {"scale": {"x": "independent", "y": "independent"}}
}
